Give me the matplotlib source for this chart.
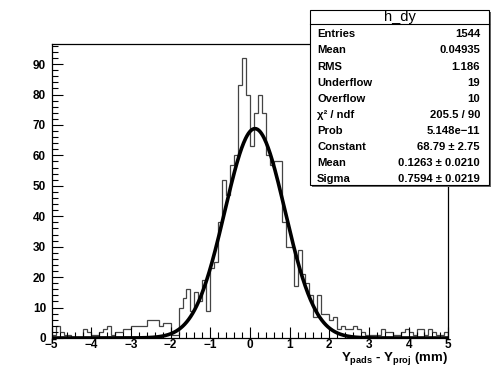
import numpy as np
import matplotlib.pyplot as plt
from matplotlib.ticker import MultipleLocator
from matplotlib.patches import Rectangle

plt.rcParams['font.family'] = ['Liberation Sans', 'DejaVu Sans']
plt.rcParams['font.weight'] = 'bold'
plt.rcParams['mathtext.fontset'] = 'custom'
plt.rcParams['mathtext.rm'] = 'Liberation Sans:bold'
plt.rcParams['mathtext.bf'] = 'Liberation Sans:bold'

# histogram h_dy: 100 bins from -5 to 5 mm
nbins, xmin, xmax = 100, -5.0, 5.0
counts = [
    1, 4, 2, 1, 1, 0, 0, 0, 3, 2,        # -5.0 .. -4.1
    1, 1, 2, 3, 4, 1, 2, 2, 3, 3,        # -4.0 .. -3.1
    4, 4, 4, 4, 6, 6, 6, 4, 5, 5,        # -3.0 .. -2.1
    1, 1, 10, 13, 16, 9, 15, 12, 19, 9,  # -2.0 .. -1.1
    23, 25, 38, 52, 47, 57, 60, 83, 92, 80,  # -1.0 .. -0.1
    63, 74, 80, 74, 60, 57, 58, 58, 38, 30,  # 0.0 .. 0.9
    30, 17, 29, 21, 18, 14, 7, 14, 8, 8,     # 1.0 .. 1.9
    6, 7, 3, 4, 3, 3, 4, 3, 2, 1,        # 2.0 .. 2.9
    1, 1, 1, 3, 2, 2, 1, 1, 2, 3,        # 3.0 .. 3.9
    2, 1, 3, 3, 1, 3, 2, 1, 1, 2,        # 4.0 .. 4.9
]

# gaus fit parameters from the stats box
fit_const, fit_mean, fit_sigma = 68.79, 0.1263, 0.7594

stat_labels = ['Entries', 'Mean', 'RMS', 'Underflow', 'Overflow',
               '\u03c7\u00b2 / ndf', 'Prob', 'Constant', 'Mean', 'Sigma']
stat_values = ['1544', '0.04935', '1.186', '19', '10', '205.5 / 90',
               '5.148e\u221211', '68.79 \u00b1 2.75', '0.1263 \u00b1 0.0210',
               '0.7594 \u00b1 0.0219']

W, H = 500, 371
fig = plt.figure(figsize=(W / 100, H / 100), dpi=100)
ax = fig.add_axes([51.6 / W, 1 - 338 / H, (448.3 - 51.6) / W, (338 - 44) / H])

edges = np.linspace(xmin, xmax, nbins + 1)
ax.stairs(counts, edges, color='#444444', lw=0.9)

xf = np.linspace(xmin, xmax, 600)
yf = fit_const * np.exp(-0.5 * ((xf - fit_mean) / fit_sigma) ** 2)
ax.plot(xf, yf, color='black', lw=2.6, solid_capstyle='butt')

ax.set_xlim(xmin, xmax)
ax.set_ylim(0, max(counts) * 1.05)
ax.xaxis.set_major_locator(MultipleLocator(1))
ax.xaxis.set_minor_locator(MultipleLocator(0.2))
ax.yaxis.set_major_locator(MultipleLocator(10))
ax.yaxis.set_minor_locator(MultipleLocator(2))
ax.tick_params(which='both', direction='in', top=False, right=False, width=0.8)
ax.tick_params(which='major', length=8, labelsize=8.5)
ax.tick_params(which='minor', length=4)
ax.tick_params(axis='x', pad=1)
ax.tick_params(axis='y', pad=4)
for sp in ax.spines.values():
    sp.set_linewidth(0.9)

fig.text(448.3 / W, 1 - 361 / H,
         r'Y$_{\mathbf{pads}}$ - Y$_{\mathbf{proj}}$ (mm)',
         ha='right', va='baseline', fontsize=9.5, fontweight='bold')

# stats box
bx0, by0, bx1, by1 = 310, 10, 489, 185
fig.add_artist(Rectangle(((bx0 + 1.5) / W, 1 - (by1 + 1.5) / H), (bx1 - bx0) / W,
                         (by1 - by0) / H, transform=fig.transFigure,
                         fc='#666666', ec='none', zorder=9))
fig.add_artist(Rectangle((bx0 / W, 1 - by1 / H), (bx1 - bx0) / W,
                         (by1 - by0) / H, transform=fig.transFigure,
                         fc='white', ec='black', lw=0.8, zorder=10))
fig.add_artist(plt.Line2D([bx0 / W, bx1 / W], [1 - 24 / H, 1 - 24 / H],
                          transform=fig.transFigure, color='black', lw=0.8,
                          zorder=11))
fig.text((bx0 + bx1) / 2 / W, 1 - 17 / H, 'h_dy', ha='center', va='center',
         fontsize=10.5, fontweight='normal', zorder=12)
for i, (lab, val) in enumerate(zip(stat_labels, stat_values)):
    yy = 1 - (34.3 + 16.1 * i) / H
    fig.text(317 / W, yy, lab, ha='left', va='center', fontsize=8.1,
             fontweight='bold', zorder=12)
    fig.text(480 / W, yy, val, ha='right', va='center', fontsize=8.1,
             fontweight='bold', zorder=12)

fig.savefig('out.png', dpi=100)
